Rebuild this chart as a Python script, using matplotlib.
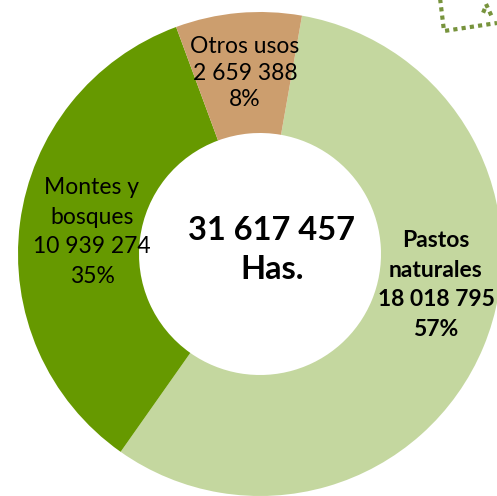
import matplotlib.pyplot as plt

# data
labels = ["Pastos\nnaturales", "Montes y\nbosques", "Otros usos"]
values = [18018795, 10939274, 2659388]
pcts = ["57%", "35%", "8%"]
colors = ["#C4D79F", "#669900", "#CC9E6E"]
total_txt = "31 617 457\nHas."

W, H = 497, 496
fig = plt.figure(figsize=(W / 100, H / 100), dpi=100)
ax = fig.add_axes([0, 0, 1, 1])

cx, cy, R = 260, H - 254, 242
wedges, _ = ax.pie(values, colors=colors, startangle=80, counterclock=False,
                   radius=R, center=(cx, cy), frame=True,
                   wedgeprops=dict(width=R * 0.5, linewidth=0))
ax.set_xlim(0, W)
ax.set_ylim(0, H)
ax.set_aspect("equal")
ax.axis("off")

font = ["Lato", "DejaVu Sans"]

def fmt(v):
    return f"{v:,}".replace(",", " ")

# label positions (pixel coords from top-left), weight, line spacing
pos = [(436, 285, "bold", 1.5), (92, 232, "normal", 1.5),
       (245, 73, "normal", 1.33)]
for (x, y, w, ls), lab, v, p in zip(pos, labels, values, pcts):
    ax.text(x, H - y, f"{lab}\n{fmt(v)}\n{p}", ha="center", va="center",
            fontsize=16.5, fontweight=w, family=font, linespacing=ls,
            color="black")

ax.text(272, H - 250, total_txt, ha="center", va="center", fontsize=23.5,
        fontweight="bold", family=font, linespacing=1.45)

# decorative dotted frame, top right
deco = "#77933C"
ax.plot([440, 444, 497], [H + 2, H - 31, H - 23], ls=(0, (1, 1)), lw=3,
        color=deco, solid_capstyle="butt")
ax.plot([486, 492], [H - 4, H - 17], ls=(0, (1, 1)), lw=3, color=deco)
ax.plot([482, 489], [H - 10, H - 13], ls=(0, (1, 1)), lw=3, color=deco)

fig.savefig("out.png", dpi=100)
